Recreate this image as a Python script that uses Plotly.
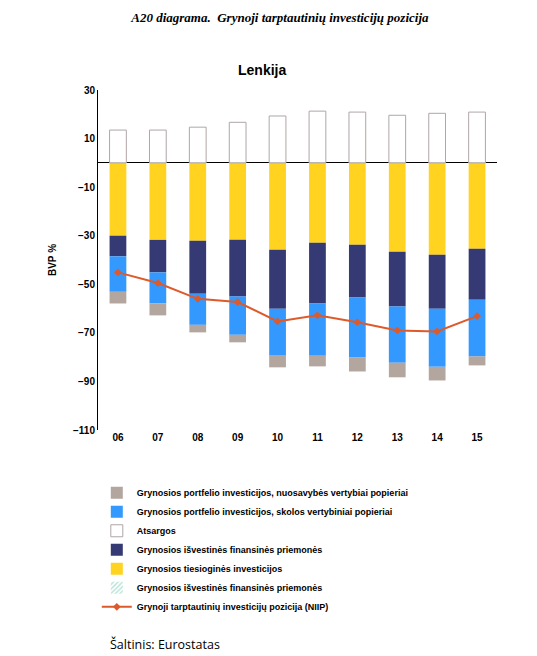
import plotly.graph_objects as go

# Data (% of GDP)
years = ['06', '07', '08', '09', '10', '11', '12', '13', '14', '15']

fdi = [-30.0, -31.7, -32.1, -31.7, -35.8, -32.9, -33.7, -36.6, -37.8, -35.4]
derivatives = [-8.5, -13.4, -21.8, -23.3, -24.3, -25.0, -21.7, -22.5, -22.3, -21.0]
portfolio_debt = [-14.6, -12.8, -12.8, -15.8, -19.3, -21.5, -24.7, -23.2, -23.9, -23.3]
portfolio_equity = [-4.8, -4.9, -3.1, -3.1, -4.8, -4.4, -5.8, -6.0, -5.6, -3.7]
reserves = [13.5, 13.5, 14.7, 16.7, 19.3, 21.3, 20.9, 19.6, 20.4, 20.9]
derivatives_hatched = [0] * 10
niip = [-45.1, -49.5, -56.0, -57.3, -65.3, -62.8, -65.6, -69.0, -69.4, -63.1]

font_main = "Liberation Sans"
bw = 0.42

fig = go.Figure()

# ── negative stack (order from zero downward) ─────────────
fig.add_trace(go.Bar(x=years, y=fdi, name="Grynosios tiesioginės investicijos",
                     marker=dict(color='#FFD320', line=dict(width=0)),
                     width=bw, legendrank=5))
fig.add_trace(go.Bar(x=years, y=derivatives, name="Grynosios išvestinės finansinės priemonės",
                     marker=dict(color='#353A75', line=dict(width=0)),
                     width=bw, legendrank=4))
fig.add_trace(go.Bar(x=years, y=portfolio_debt,
                     name="Grynosios portfelio investicijos, skolos vertybiniai popieriai",
                     marker=dict(color='#3399FF', line=dict(width=0)),
                     width=bw, legendrank=2))
fig.add_trace(go.Bar(x=years, y=portfolio_equity,
                     name="Grynosios portfelio investicijos, nuosavybės vertybiai popieriai",
                     marker=dict(color='#B3A69E', line=dict(width=0)),
                     width=bw, legendrank=1))

# ── positive part ─────────────────────────────────────────
fig.add_trace(go.Bar(x=years, y=reserves, name="Atsargos",
                     marker=dict(color='white', line=dict(color='#B0A6A6', width=1)),
                     width=bw, legendrank=3))
fig.add_trace(go.Bar(x=years, y=derivatives_hatched,
                     name="Grynosios išvestinės finansinės priemonės",
                     marker=dict(color='white', line=dict(width=0),
                                 pattern=dict(shape='/', fgcolor='#5FC3A8',
                                              bgcolor='white', size=4, solidity=0.4)),
                     width=bw, legendrank=6))

# ── NIIP line ─────────────────────────────────────────────
fig.add_trace(go.Scatter(x=years, y=niip, mode='lines+markers',
                         name="Grynoji tarptautinių investicijų pozicija (NIIP)",
                         line=dict(color='#DD5A2B', width=2),
                         marker=dict(symbol='diamond', size=6, color='#DD5A2B'),
                         legendrank=7))

# page body has an 8px margin, so the figure is 8px smaller on each axis
fig.update_layout(
    barmode='relative',
    width=529, height=648,
    paper_bgcolor='white', plot_bgcolor='white',
    margin=dict(l=90, r=40, t=82, b=226, autoexpand=False),
    font=dict(family=font_main, size=10, color='black'),
    title=dict(
        text="<b><i>A20 diagrama.  Grynoji tarptautinių investicijų pozicija</i></b>",
        font=dict(family="Liberation Serif", size=13, color='black'),
        x=0.514, xanchor='center', y=0.986, yanchor='middle',
    ),
    showlegend=True,
    legend=dict(
        x=-0.003, y=-0.142, xanchor='left', yanchor='top',
        font=dict(family=font_main, size=9, color='black', weight='bold'),
        tracegroupgap=0, itemwidth=30,
        traceorder='normal',
        bgcolor='rgba(0,0,0,0)',
    ),
    annotations=[
        dict(text="<b>Lenkija</b>", x=0.41, y=1.059, xref='paper', yref='paper',
             xanchor='center', yanchor='middle', showarrow=False,
             font=dict(family=font_main, size=14, color='black')),
        dict(text="Šaltinis: Eurostatas", x=0.025, y=-0.632, xref='paper', yref='paper',
             xanchor='left', yanchor='middle', showarrow=False,
             font=dict(family="Open Sans", size=12.5, color='black')),
    ],
)

fig.update_xaxes(
    range=[-0.5, 9.5],
    showline=False, showgrid=False, ticks='', automargin=False,
    tickfont=dict(family=font_main, size=10, color='black', weight='bold'),
)
fig.update_yaxes(
    range=[-110, 30], tickvals=[30, 10, -10, -30, -50, -70, -90, -110],
    showgrid=False, showline=True, linecolor='black', linewidth=1,
    zeroline=True, zerolinecolor='black', zerolinewidth=1, automargin=False,
    ticks='', tickfont=dict(family=font_main, size=10, color='black', weight='bold'),
    title=dict(text="<b>BVP %</b>", font=dict(family=font_main, size=10, color='black'),
               standoff=14),
)

fig.write_html("out.html")
